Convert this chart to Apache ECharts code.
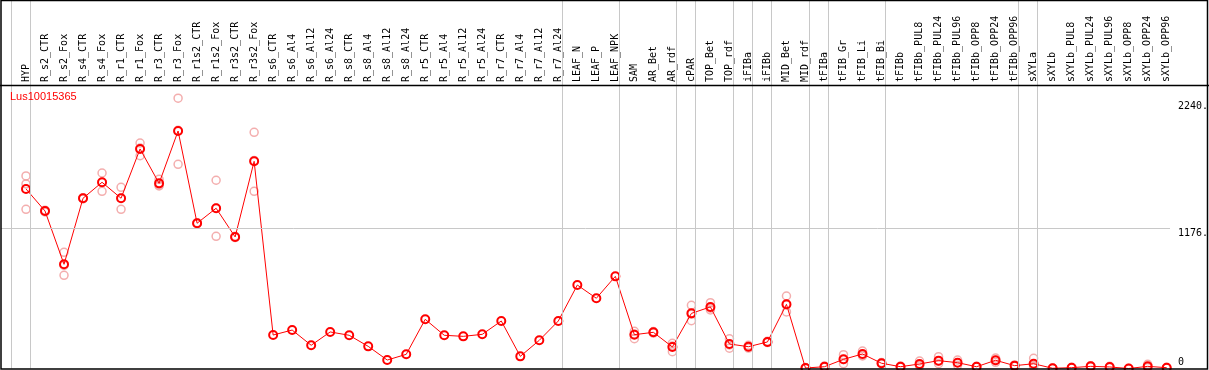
<!DOCTYPE html>
<html lang="en">
<head>
    <meta charset="UTF-8">
    <title>Lus10015365</title>
    <script src="https://cdn.jsdelivr.net/npm/echarts@6/dist/echarts.min.js"></script>
    <style>
        html, body { margin: 0; padding: 0; background: #fff; }
        #main { width: 1209px; height: 370px; }
    </style>
</head>
<body>
<div id="main"></div>
<script type="text/javascript">
    // sample names, left to right
    const categories = ['HYP', 'R_s2_CTR', 'R_s2_Fox', 'R_s4_CTR', 'R_s4_Fox', 'R_r1_CTR', 'R_r1_Fox',
        'R_r3_CTR', 'R_r3_Fox', 'R_r1s2_CTR', 'R_r1s2_Fox', 'R_r3s2_CTR', 'R_r3s2_Fox',
        'R_s6_CTR', 'R_s6_Al4', 'R_s6_Al12', 'R_s6_Al24', 'R_s8_CTR', 'R_s8_Al4', 'R_s8_Al12', 'R_s8_Al24',
        'R_r5_CTR', 'R_r5_Al4', 'R_r5_Al12', 'R_r5_Al24', 'R_r7_CTR', 'R_r7_Al4', 'R_r7_Al12', 'R_r7_Al24',
        'LEAF_N', 'LEAF_P', 'LEAF_NPK', 'SAM', 'AR_Bet', 'AR_rdf', 'cPAR', 'TOP_Bet', 'TOP_rdf',
        'iFIBa', 'iFIBb', 'MID_Bet', 'MID_rdf', 'tFIBa', 'tFIB_Gr', 'tFIB_Li', 'tFIB_Bi',
        'tFIBb', 'tFIBb_PUL8', 'tFIBb_PUL24', 'tFIBb_PUL96', 'tFIBb_OPP8', 'tFIBb_OPP24', 'tFIBb_OPP96',
        'sXYLa', 'sXYLb', 'sXYLb_PUL8', 'sXYLb_PUL24', 'sXYLb_PUL96', 'sXYLb_OPP8', 'sXYLb_OPP24', 'sXYLb_OPP96'];

    // how many samples in each block between grey separators
    const groupSizes = [1, 28, 3, 3, 1, 2, 1, 1, 2, 1, 3, 7, 1, 7];

    // mean expression
    const means = [1508, 1323, 875, 1430, 1564, 1430, 1844, 1555, 1995, 1220, 1346, 1105, 1740,
        281, 323, 195, 307, 279, 186, 71, 119, 413, 279, 270, 287, 399, 102, 237, 399,
        701, 590, 774, 284, 304, 181, 463, 517, 206, 183, 223, 539, 4, 15, 77, 122, 44,
        15, 38, 66, 49, 15, 69, 24, 40, 2, 7, 18, 13, 0, 18, 7];

    // replicates (null = none drawn)
    const rep1 = [1617, 1330, 976, 1435, 1642, 1522, 1894, 1589, 2270, 1225, 1581, 1110, 1984,
        null, null, null, null, null, null, null, null, null, null, null, null, null, null, null, null,
        null, null, null, 312, 310, 212, 531, 553, 250, 195, 228, 609, 8, 20, 116, 147, 50,
        20, 63, 99, 71, 18, 88, 30, 86, 4, 10, 24, 18, 0, 35, 10];
    const rep2 = [1337, 1315, 783, 1425, 1488, 1337, 1787, 1533, 1715, 1215, 1110, 1100, 1488,
        null, null, null, null, null, null, null, null, null, null, null, null, null, null, null, null,
        null, null, null, 250, 298, 141, 402, 506, 170, 172, 218, 475, 0, 10, 40, 105, 38,
        10, 21, 40, 27, 12, 52, 18, 24, 0, 4, 12, 8, 0, 10, 4];
    const rep3 = [1550, 1325, 866, 1430, 1562, 1431, 1851, 1543, 2000, 1220, 1347, 1105, 1748,
        null, null, null, null, null, null, null, null, null, null, null, null, null, null, null, null,
        null, null, null, 290, 304, 190, 456, 492, 198, 183, 223, 533, 4, 15, 75, 114, 44,
        15, 30, 59, 49, 15, 67, 24, 10, 2, 7, 18, 13, 0, 9, 7];

    const yTicks = [0, 1176, 2240];

    function init() {
        let myChart = echarts.init(document.getElementById('main'));
        const font = 'DejaVu Sans Mono';

        // separator positions: just after the last sample of each block
        let sepLines = [{xAxis: -1 + 0.2}];
        let acc = 0;
        groupSizes.forEach(function (n) {
            acc += n;
            sepLines.push({xAxis: acc - 1 + 0.21});
        });

        let repPts = [];
        [rep1, rep2, rep3].forEach(function (arr) {
            arr.forEach(function (v, i) {
                if (v !== null) repPts.push([i, v]);
            });
        });

        const option = {
            animation: false,
            title: {
                text: 'Lus10015365',
                left: 10,
                top: 91,
                padding: 0,
                textStyle: {color: '#ff0000', fontFamily: 'Liberation Sans', fontSize: 11, fontWeight: 'normal'}
            },
            grid: [
                {left: 1, right: 39, top: 0, bottom: 1.5, outerBoundsMode: 'none'},
                {left: 26, right: 42.3, top: 85, height: 1, outerBoundsMode: 'none'}
            ],
            xAxis: [
                {
                    type: 'value', gridIndex: 0, min: -1.315, max: 60.174, show: false
                },
                {
                    type: 'category', gridIndex: 1, position: 'top', boundaryGap: false,
                    data: categories,
                    axisLine: {show: false},
                    axisTick: {show: false},
                    axisLabel: {
                        interval: 0, rotate: 90, margin: 3,
                        fontFamily: font, fontSize: 10, color: '#000'
                    }
                }
            ],
            yAxis: [
                {
                    type: 'value', gridIndex: 0, position: 'right',
                    min: 0, max: 3095, interval: 56,
                    axisLine: {show: false},
                    axisTick: {show: false},
                    splitLine: {show: false},
                    axisLabel: {
                        margin: 8,
                        showMaxLabel: false,
                        formatter: function (v) {
                            if (yTicks.indexOf(v) < 0) return '';
                            return v === 0 ? '{z|0}' : '{n|' + v + '.}';
                        },
                        rich: {
                            n: {fontFamily: font, fontSize: 10, color: '#000', lineHeight: 10, padding: [10, 0, 0, 0]},
                            z: {fontFamily: font, fontSize: 10, color: '#000', lineHeight: 10, padding: [0, 0, 12, 0]}
                        }
                    }
                },
                {type: 'value', gridIndex: 1, show: false}
            ],
            series: [
                {
                    name: 'replicates',
                    type: 'scatter',
                    xAxisIndex: 0, yAxisIndex: 0,
                    symbol: 'circle',
                    symbolSize: 8,
                    z: 2,
                    itemStyle: {color: 'rgba(255,255,255,0)', borderColor: '#f09a9a', borderWidth: 1.5},
                    data: repPts,
                    markLine: {
                        silent: true,
                        symbol: 'none',
                        label: {show: false},
                        lineStyle: {color: '#c8c8c8', width: 1, type: 'solid'},
                        data: sepLines.concat([{yAxis: 1176}])
                    }
                },
                {
                    name: 'mean',
                    type: 'line',
                    xAxisIndex: 0, yAxisIndex: 0,
                    symbol: 'circle',
                    symbolSize: 8,
                    z: 3,
                    lineStyle: {color: '#ff0000', width: 1},
                    itemStyle: {color: 'rgba(255,255,255,0)', borderColor: '#ff0000', borderWidth: 2},
                    data: means.map(function (v, i) { return [i, v]; })
                }
            ],
            graphic: [
                {
                    type: 'rect', z: 100, silent: true,
                    shape: {x: 1, y: 0.5, width: 1206.5, height: 368.5},
                    style: {fill: 'none', stroke: '#000', lineWidth: 1.5}
                },
                {
                    type: 'line', z: 100, silent: true,
                    shape: {x1: 0, y1: 85.5, x2: 1209, y2: 85.5},
                    style: {stroke: '#000', lineWidth: 1.5}
                }
            ]
        };
        myChart.setOption(option);
    }
    init();
</script>
</body>
</html>
